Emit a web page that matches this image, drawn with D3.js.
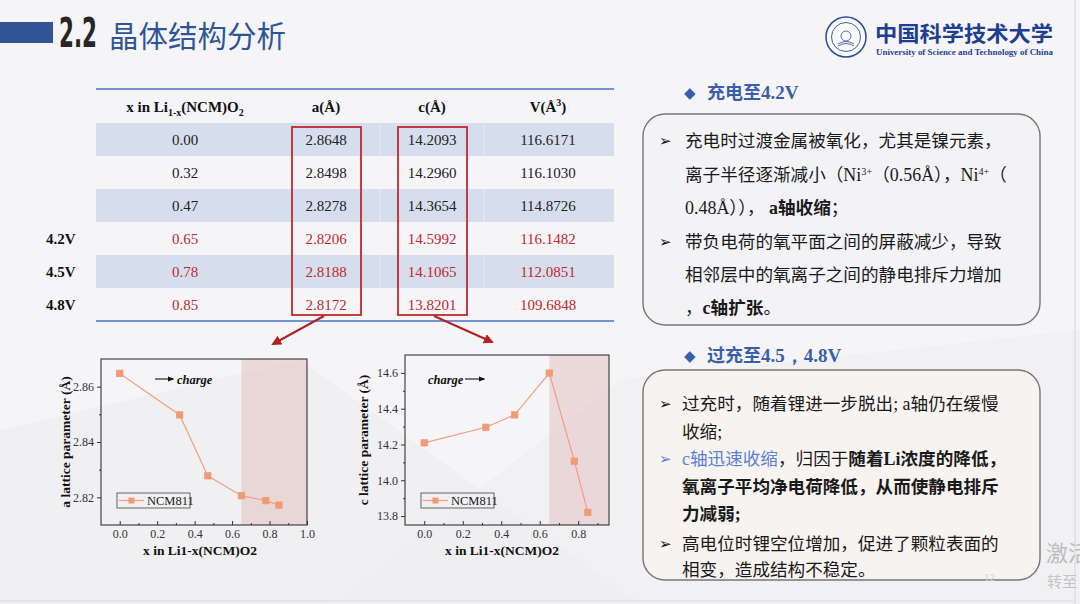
<!DOCTYPE html>
<html>
<head>
<meta charset="utf-8">
<script src="https://cdn.jsdelivr.net/npm/d3@7/dist/d3.min.js"></script>
<style>
  html, body { margin: 0; padding: 0; background: #f4f4f6; }
  svg { display: block; }
</style>
</head>
<body>
<svg id="slide" width="1080" height="604"></svg>
<script>
/* 2.2 晶体结构分析 — lattice parameters of NCM811 vs. delithiation */

// ---- data ----
const xFrac   = [0.00, 0.32, 0.47, 0.65, 0.78, 0.85];
const aParam  = [2.8648, 2.8498, 2.8278, 2.8206, 2.8188, 2.8172];
const cParam  = [14.2093, 14.2960, 14.3654, 14.5992, 14.1065, 13.8201];
const volume  = [116.6171, 116.1030, 114.8726, 116.1482, 112.0851, 109.6848];
const voltLabels = ['', '', '', '4.2V', '4.5V', '4.8V'];

const aTicks = [2.82, 2.84, 2.86];
const aMinor = [2.81, 2.83, 2.85, 2.87];
const cTicks = [13.8, 14.0, 14.2, 14.4, 14.6];
const cMinor = [13.9, 14.1, 14.3, 14.5, 14.7];
const xTicksA = [0.0, 0.2, 0.4, 0.6, 0.8, 1.0];
const xMinorA = [-0.1, 0.1, 0.3, 0.5, 0.7, 0.9];
const xTicksC = [0.0, 0.2, 0.4, 0.6, 0.8];
const xMinorC = [-0.1, 0.1, 0.3, 0.5, 0.7, 0.9];
const overchargeStart = 0.65;

const SERIF = '"Liberation Serif","Times New Roman",serif';
const CJK = '"Noto Sans CJK SC","Noto Sans",sans-serif';
const BLUE = '#2f5597';
const RED = '#c0282c';

const svg = d3.select('#slide');

// ---- background ----
svg.append('rect').attr('width', 1080).attr('height', 604).attr('fill', '#f5f5f7');
svg.append('polygon').attr('points', '0,430 300,360 640,604 0,604').attr('fill', '#ebebee').attr('opacity', 0.55);
svg.append('polygon').attr('points', '330,604 620,380 1080,330 1080,604').attr('fill', '#efeff2').attr('opacity', 0.6);
svg.append('line').attr('x1', 1075).attr('x2', 1075).attr('y1', 0).attr('y2', 604).attr('stroke', '#d6d6d6');
svg.append('line').attr('x1', 0).attr('x2', 1075).attr('y1', 601).attr('y2', 601).attr('stroke', '#dcdcdc');

// ---- header ----
svg.append('rect').attr('x', 0).attr('y', 22).attr('width', 53).attr('height', 21).attr('fill', BLUE);
svg.append('text').attr('x', 59).attr('y', 47)
  .attr('font-family', '"Liberation Sans Narrow","DejaVu Sans Condensed",sans-serif')
  .attr('font-weight', 'bold').attr('font-size', 40).attr('fill', '#262626')
  .attr('textLength', 38).attr('lengthAdjust', 'spacingAndGlyphs').text('2.2');
svg.append('text').attr('x', 109).attr('y', 47).attr('font-family', CJK)
  .attr('font-size', 29.5).attr('fill', BLUE).text('晶体结构分析');

// logo
const logo = svg.append('g').attr('transform', 'translate(846,37)');
logo.append('circle').attr('r', 20).attr('fill', '#fafafa').attr('stroke', '#2b4c9b').attr('stroke-width', 1.5);
logo.append('circle').attr('r', 14.5).attr('fill', 'none').attr('stroke', '#2b4c9b').attr('stroke-width', 0.9);
logo.append('circle').attr('r', 5).attr('cy', -1).attr('fill', 'none').attr('stroke', '#2b4c9b').attr('stroke-width', 0.8);
logo.append('path').attr('d', 'M-8,7 Q0,2 8,7 M-8,9 Q0,4 8,9').attr('fill', 'none').attr('stroke', '#2b4c9b').attr('stroke-width', 0.8);
svg.append('text').attr('x', 875).attr('y', 41).attr('font-family', CJK).attr('font-weight', 'bold')
  .attr('font-size', 21).attr('fill', '#1d3f8f').attr('textLength', 178).attr('lengthAdjust', 'spacingAndGlyphs')
  .text('中国科学技术大学');
svg.append('text').attr('x', 876).attr('y', 55).attr('font-family', SERIF).attr('font-weight', 'bold')
  .attr('font-size', 8.6).attr('fill', '#1d3f8f').attr('textLength', 177).attr('lengthAdjust', 'spacingAndGlyphs')
  .text('University of Science and Technology of China');

// ---- table ----
const rowBand = d3.scaleBand().domain(d3.range(xFrac.length)).range([123, 321]);
const colX = { x: 185, a: 326, c: 432, v: 548 };
const tableL = 96, tableR = 614;
const tbl = svg.append('g');

tbl.selectAll('rect.shade').data(d3.range(xFrac.length).filter(i => i % 2 === 0)).enter()
  .append('rect').attr('class', 'shade')
  .attr('x', tableL).attr('width', tableR - tableL)
  .attr('y', i => rowBand(i)).attr('height', rowBand.bandwidth())
  .attr('fill', '#d6deee');
[380, 484].forEach(cx => {
  tbl.selectAll(null).data(d3.range(xFrac.length).filter(i => i % 2 === 0)).enter()
    .append('line').attr('x1', cx).attr('x2', cx)
    .attr('y1', i => rowBand(i)).attr('y2', i => rowBand(i) + rowBand.bandwidth())
    .attr('stroke', '#e6ebf5').attr('stroke-width', 1);
});
tbl.append('line').attr('x1', tableL).attr('x2', tableR).attr('y1', 89).attr('y2', 89)
  .attr('stroke', '#4472c4').attr('stroke-width', 1.6);
tbl.append('line').attr('x1', tableL).attr('x2', tableR).attr('y1', 321).attr('y2', 321)
  .attr('stroke', '#4472c4').attr('stroke-width', 1.6);

// header row
const hdr = tbl.append('g').attr('font-family', SERIF).attr('font-weight', 'bold')
  .attr('font-size', 15).attr('fill', '#111').attr('text-anchor', 'middle');
const h1 = hdr.append('text').attr('x', colX.x).attr('y', 112);
h1.append('tspan').text('x in Li');
h1.append('tspan').attr('dy', 4).attr('font-size', 10).text('1-x');
h1.append('tspan').attr('dy', -4).text('(NCM)O');
h1.append('tspan').attr('dy', 4).attr('font-size', 10).text('2');
hdr.append('text').attr('x', colX.a).attr('y', 112).text('a(Å)');
hdr.append('text').attr('x', colX.c).attr('y', 112).text('c(Å)');
const h4 = hdr.append('text').attr('x', colX.v).attr('y', 112);
h4.append('tspan').text('V(Å');
h4.append('tspan').attr('dy', -6).attr('font-size', 10).text('3');
h4.append('tspan').attr('dy', 6).text(')');

// body rows
const f2 = d3.format('.2f'), f4 = d3.format('.4f');
const rows = tbl.selectAll('g.row').data(d3.range(xFrac.length)).enter().append('g')
  .attr('class', 'row')
  .attr('transform', i => `translate(0,${rowBand(i) + rowBand.bandwidth() / 2 + 5})`)
  .attr('font-family', SERIF).attr('font-size', 15).attr('text-anchor', 'middle')
  .attr('fill', i => voltLabels[i] ? RED : '#222');
rows.append('text').attr('x', colX.x).text(i => f2(xFrac[i]));
rows.append('text').attr('x', colX.a).text(i => f4(aParam[i]));
rows.append('text').attr('x', colX.c).text(i => f4(cParam[i]));
rows.append('text').attr('x', colX.v).text(i => f4(volume[i]));
rows.append('text').attr('x', 46).attr('text-anchor', 'start').attr('font-weight', 'bold')
  .attr('fill', '#111').text(i => voltLabels[i]);

// red highlight boxes
const boxTop = rowBand(0) + 4, boxBot = rowBand(xFrac.length - 1) + rowBand.bandwidth() - 6;
['a', 'c'].forEach(k => {
  tbl.append('rect').attr('x', colX[k] - 34).attr('y', boxTop).attr('width', 69).attr('height', boxBot - boxTop)
    .attr('fill', 'none').attr('stroke', RED).attr('stroke-width', 1.8);
});

// arrows from table to charts
const defs = svg.append('defs');
defs.append('marker').attr('id', 'redHead').attr('viewBox', '0 0 10 10').attr('refX', 8).attr('refY', 5)
  .attr('markerWidth', 5).attr('markerHeight', 5).attr('orient', 'auto')
  .append('path').attr('d', 'M0,0 L10,5 L0,10 z').attr('fill', '#b22222');
defs.append('marker').attr('id', 'blackHead').attr('viewBox', '0 0 10 10').attr('refX', 8).attr('refY', 5)
  .attr('markerWidth', 6).attr('markerHeight', 6).attr('orient', 'auto')
  .append('path').attr('d', 'M0,1 L10,5 L0,9 z').attr('fill', '#111');
svg.append('line').attr('x1', 324).attr('y1', boxBot + 1).attr('x2', 273).attr('y2', 344)
  .attr('stroke', '#b22222').attr('stroke-width', 2).attr('marker-end', 'url(#redHead)');
svg.append('line').attr('x1', 434).attr('y1', boxBot + 1).attr('x2', 492).attr('y2', 342)
  .attr('stroke', '#b22222').attr('stroke-width', 2).attr('marker-end', 'url(#redHead)');

// ---- charts ----
function drawChart(o) {
  const g = svg.append('g');
  const x = d3.scaleLinear().domain(o.xDom).range([o.left, o.right]);
  const y = d3.scaleLinear().domain(o.yDom).range([o.bottom, o.top]);

  g.append('rect').attr('x', x(overchargeStart)).attr('y', o.top)
    .attr('width', o.right - x(overchargeStart)).attr('height', o.bottom - o.top)
    .attr('fill', '#d9a3a3').attr('opacity', 0.32);

  g.append('g').attr('transform', `translate(0,${o.bottom})`)
    .call(d3.axisBottom(x).tickValues(o.xTicks).tickFormat(d3.format('.1f')).tickSizeInner(-4).tickSizeOuter(0).tickPadding(4));
  g.append('g').attr('transform', `translate(0,${o.bottom})`)
    .call(d3.axisBottom(x).tickValues(o.xMinor.filter(v => v > o.xDom[0] && v < o.xDom[1])).tickFormat('').tickSizeInner(-2).tickSizeOuter(0));
  g.append('g').attr('transform', `translate(${o.left},0)`)
    .call(d3.axisLeft(y).tickValues(o.yTicks).tickFormat(d3.format(o.yFmt)).tickSizeInner(4).tickSizeOuter(0).tickPadding(3));
  g.append('g').attr('transform', `translate(${o.left},0)`)
    .call(d3.axisLeft(y).tickValues(o.yMinor.filter(v => v > o.yDom[0] && v < o.yDom[1])).tickFormat('').tickSizeInner(2).tickSizeOuter(0));
  g.selectAll('.domain').remove();
  g.selectAll('.tick line').attr('stroke', '#333');
  g.selectAll('.tick text').attr('font-family', SERIF).attr('font-size', 12).attr('fill', '#333');

  g.append('rect').attr('x', o.left).attr('y', o.top).attr('width', o.right - o.left).attr('height', o.bottom - o.top)
    .attr('fill', 'none').attr('stroke', '#333').attr('stroke-width', 1.1);

  const pts = o.values.map((v, i) => [xFrac[i], v]);
  g.append('path').datum(pts).attr('fill', 'none').attr('stroke', '#f0a080').attr('stroke-width', 1.2)
    .attr('d', d3.line().x(d => x(d[0])).y(d => y(d[1])));
  g.selectAll('rect.pt').data(pts).enter().append('rect').attr('class', 'pt')
    .attr('x', d => x(d[0]) - 3.6).attr('y', d => y(d[1]) - 3.6).attr('width', 7.2).attr('height', 7.2)
    .attr('fill', '#f29a76');

  // legend
  const lg = g.append('g').attr('transform', `translate(${o.legX},${o.legY})`);
  lg.append('rect').attr('width', 73).attr('height', 15).attr('fill', 'none').attr('stroke', '#555').attr('stroke-width', 0.9);
  lg.append('line').attr('x1', 2).attr('x2', 27).attr('y1', 7.5).attr('y2', 7.5).attr('stroke', '#f0a080').attr('stroke-width', 1.2);
  lg.append('rect').attr('x', 11.5).attr('y', 4.5).attr('width', 6).attr('height', 6).attr('fill', '#f29a76');
  lg.append('text').attr('x', 30).attr('y', 12).attr('font-family', SERIF).attr('font-size', 12.5)
    .attr('fill', '#222').text('NCM811');

  // charge annotation
  g.append('line').attr('x1', o.arrow[0]).attr('x2', o.arrow[1]).attr('y1', 379).attr('y2', 379)
    .attr('stroke', '#111').attr('stroke-width', 1.1).attr('marker-end', 'url(#blackHead)');
  g.append('text').attr('x', o.chargeX).attr('y', 383.5).attr('font-family', SERIF).attr('font-style', 'italic')
    .attr('font-weight', 'bold').attr('font-size', 12.5).attr('fill', '#111').text('charge');

  // axis titles
  g.append('text').attr('transform', `translate(${o.yLabelX},${(o.top + o.bottom) / 2}) rotate(-90)`)
    .attr('text-anchor', 'middle').attr('font-family', SERIF).attr('font-weight', 'bold').attr('font-size', 13.5)
    .attr('fill', '#111').text(o.yLabel);
  g.append('text').attr('x', o.xLabelX).attr('y', 555).attr('text-anchor', 'middle')
    .attr('font-family', SERIF).attr('font-weight', 'bold').attr('font-size', 13.5).attr('fill', '#111')
    .text('x in Li1-x(NCM)O2');
}

drawChart({
  left: 101, right: 307, top: 359, bottom: 525,
  xDom: [-0.1, 1.0], yDom: [2.81, 2.87],
  xTicks: xTicksA, xMinor: xMinorA, yTicks: aTicks, yMinor: aMinor, yFmt: '.2f',
  values: aParam, legX: 117, legY: 493,
  arrow: [155, 173], chargeX: 177,
  yLabel: 'a lattice parameter (Å)', yLabelX: 70, xLabelX: 200
});
drawChart({
  left: 405, right: 609, top: 355, bottom: 525,
  xDom: [-0.1, 0.96], yDom: [13.75, 14.70],
  xTicks: xTicksC, xMinor: xMinorC, yTicks: cTicks, yMinor: cMinor, yFmt: '.1f',
  values: cParam, legX: 421, legY: 493,
  arrow: [465, 484], chargeX: 428,
  yLabel: 'c lattice parameter (Å)', yLabelX: 368, xLabelX: 502
});

// ---- right-hand notes ----
function richLine(parent, x, y, segs, size) {
  const t = parent.append('text').attr('x', x).attr('y', y).attr('font-size', size);
  let pending = 0;
  segs.forEach(s => {
    const o = typeof s === 'string' ? { t: s } : s;
    if (o.sup) {
      t.append('tspan').attr('dy', -6 + pending).attr('font-size', size * 0.58)
        .attr('font-family', SERIF).attr('fill', '#222').text(o.t);
      pending = 6;
      return;
    }
    const runs = o.t.match(/[\u3000-\u9fff\uff00-\uffef]+|[^\u3000-\u9fff\uff00-\uffef]+/g) || [];
    runs.forEach(r => {
      const cjk = /[\u3000-\u9fff\uff00-\uffef]/.test(r);
      const sp = t.append('tspan').attr('font-family', cjk ? CJK : SERIF)
        .attr('font-weight', o.b ? 'bold' : 'normal')
        .attr('fill', o.color || '#1a1a1a').text(r);
      if (!cjk) sp.attr('font-size', size * 1.02);
      if (pending) { sp.attr('dy', pending); pending = 0; }
    });
  });
  return t;
}

function heading(y, cjkPart, latinPart) {
  svg.append('text').attr('x', 684).attr('y', y + 6).attr('font-family', '"DejaVu Sans",sans-serif')
    .attr('font-size', 15).attr('fill', '#3b5eab').text('◆');
  const t = svg.append('text').attr('x', 707).attr('y', y + 7).attr('font-weight', 'bold').attr('fill', '#3b5eab');
  t.append('tspan').attr('font-family', CJK).attr('font-size', 18).text(cjkPart);
  t.append('tspan').attr('font-family', SERIF).attr('font-size', 19).text(latinPart);
}

function panel(y0, h, fill, lines, y1, step) {
  svg.append('rect').attr('x', 643).attr('y', y0).attr('width', 397).attr('height', h).attr('rx', 22)
    .attr('fill', fill).attr('stroke', '#777').attr('stroke-width', 1.4);
  const g = svg.append('g');
  lines.forEach((ln, i) => {
    const yy = y1 + step[i];
    if (ln.bullet) {
      g.append('text').attr('x', 659).attr('y', yy - 0.5).attr('font-family', '"DejaVu Sans",sans-serif')
        .attr('font-size', 15).attr('fill', ln.bulletColor || '#111').text('➢');
    }
    richLine(g, ln.x || 685, yy, ln.segs, 17.6);
  });
}

heading(92, '充电至', '4.2V');
panel(114, 211, '#f3f3f5', [
  { bullet: true, segs: ['充电时过渡金属被氧化，尤其是镍元素，'] },
  { segs: ['离子半径逐渐减小（Ni', { t: '3+', sup: 1 }, '（0.56Å），Ni', { t: '4+', sup: 1 }, '（'] },
  { segs: ['0.48Å））， ', { t: 'a轴收缩', b: 1 }, '；'] },
  { bullet: true, segs: ['带负电荷的氧平面之间的屏蔽减少，导致'] },
  { segs: ['相邻层中的氧离子之间的静电排斥力增加'] },
  { segs: ['，', { t: 'c轴扩张', b: 1 }, '。'] }
], 146.5, [0, 34, 67, 101, 134, 167]);

heading(355, '过充至', '4.5，4.8V');
panel(370, 210, '#f7f3f1', [
  { bullet: true, x: 682, segs: ['过充时，随着锂进一步脱出; a轴仍在缓慢'] },
  { x: 682, segs: ['收缩;'] },
  { bullet: true, bulletColor: '#5b7fd1', x: 682, segs: [{ t: 'c轴迅速收缩', color: '#5b7fd1' }, '，归因于', { t: '随着Li浓度的降低，', b: 1 }] },
  { x: 682, segs: [{ t: '氧离子平均净电荷降低，从而使静电排斥', b: 1 }] },
  { x: 682, segs: [{ t: '力减弱;', b: 1 }] },
  { bullet: true, x: 682, segs: ['高电位时锂空位增加，促进了颗粒表面的'] },
  { x: 682, segs: ['相变，造成结构不稳定。'] }
], 409.5, [0, 28, 55, 83, 110, 140, 166]);

// page number + system watermark
svg.append('text').attr('x', 984).attr('y', 581).attr('font-family', SERIF).attr('font-size', 11)
  .attr('fill', '#cfcfcf').text('12');
svg.append('text').attr('x', 1046).attr('y', 561).attr('font-family', CJK).attr('font-size', 22)
  .attr('fill', '#bdbdbd').text('激活');
svg.append('text').attr('x', 1047).attr('y', 587).attr('font-family', CJK).attr('font-size', 15)
  .attr('fill', '#c4c4c4').text('转至');
</script>
</body>
</html>
